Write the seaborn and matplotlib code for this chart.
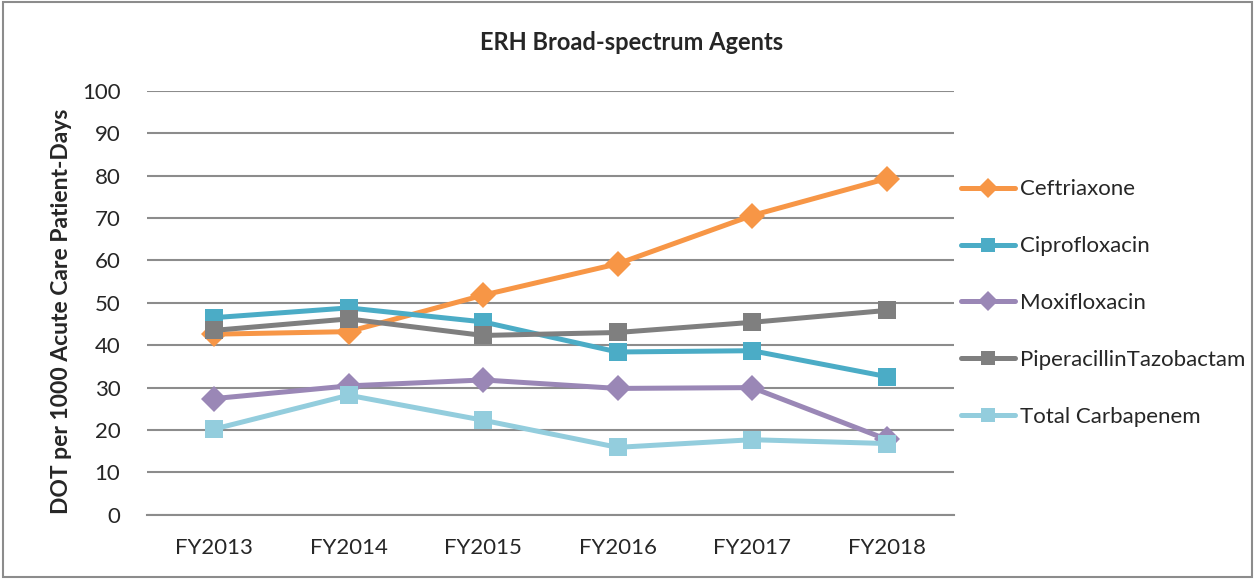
import matplotlib
matplotlib.use("Agg")
from matplotlib import pyplot as plt
from matplotlib.patches import Rectangle
import numpy as np
import pandas as pd
import seaborn as sns

years = ["FY2013", "FY2014", "FY2015", "FY2016", "FY2017", "FY2018"]
ceftriaxone = [42.6, 43.2, 51.8, 59.2, 70.6, 79.3]
ciprofloxacin = [46.5, 48.8, 45.5, 38.4, 38.7, 32.6]
moxifloxacin = [27.4, 30.4, 31.8, 29.8, 30.0, 17.8]
pip_tazo = [43.5, 46.2, 42.3, 43.0, 45.4, 48.2]
carbapenem = [20.2, 28.2, 22.3, 15.9, 17.7, 16.8]

series = {
    "Ceftriaxone": ceftriaxone,
    "Ciprofloxacin": ciprofloxacin,
    "Moxifloxacin": moxifloxacin,
    "PiperacillinTazobactam": pip_tazo,
    "Total Carbapenem": carbapenem,
}
colors = ["#F79646", "#4BACC6", "#9A87B6", "#7F7F7F", "#93CDDD"]
markers = ["D", "s", "D", "s", "s"]

rows = []
for name, vals in series.items():
    for i, v in enumerate(vals):
        rows.append({"year": i, "drug": name, "value": v})
df = pd.DataFrame(rows)

sns.set_style("white")
plt.rcParams["font.family"] = ["Lato", "DejaVu Sans"]

fig = plt.figure(figsize=(12.55, 5.79), dpi=100)
ax = fig.add_axes([0.117, 0.111, 0.643, 0.732])

names = list(series.keys())
sns.lineplot(data=df, x="year", y="value", hue="drug", style="drug",
             hue_order=names, style_order=names,
             palette=dict(zip(names, colors)),
             markers=dict(zip(names, markers)), dashes=False,
             linewidth=3.6, markersize=13.5, markeredgewidth=0, ax=ax)

ax.set_ylim(0, 100)
ax.set_xlim(-0.5, 5.5)
ax.set_yticks(np.arange(0, 101, 10))
ax.set_xticks(range(len(years)))
ax.set_xticklabels(years)
ax.set_xticks(np.arange(-0.5, 5.6, 1), minor=True)
ax.tick_params(axis="x", which="major", length=0, pad=17, labelsize=16)
ax.tick_params(axis="x", which="minor", length=9, width=1.2, color="#868686", direction="out")
ax.tick_params(axis="y", length=0, pad=19, labelsize=16)
ax.yaxis.grid(True, color="#8C8C8C", linewidth=1.5)
ax.set_axisbelow(True)
for s in ["top", "right", "left"]:
    ax.spines[s].set_visible(False)
ax.spines["bottom"].set_color("#8C8C8C")
ax.spines["bottom"].set_linewidth(1.5)

ax.set_xlabel("")
ax.set_ylabel("DOT per 1000 Acute Care Patient-Days", fontsize=16.5, fontweight="bold")
ax.yaxis.set_label_coords(-0.093, 0.479)

fig.text(0.503, 0.926, "ERH Broad-spectrum Agents", ha="center", va="center",
         fontsize=17, fontweight="bold")

handles, labels = ax.get_legend_handles_labels()
ax.legend(handles, labels, loc="upper left", bbox_to_anchor=(0.766, 0.690),
          bbox_transform=fig.transFigure, frameon=False, fontsize=16,
          labelspacing=1.66, handlelength=2.4, handletextpad=0.25,
          borderpad=0, borderaxespad=0, markerscale=0.72)

fig.patches.append(Rectangle((0.002, 0.003), 0.996, 0.994, transform=fig.transFigure,
                             fill=False, edgecolor="#8C8C8C", linewidth=1.5))

fig.savefig("out.png", dpi=100)
